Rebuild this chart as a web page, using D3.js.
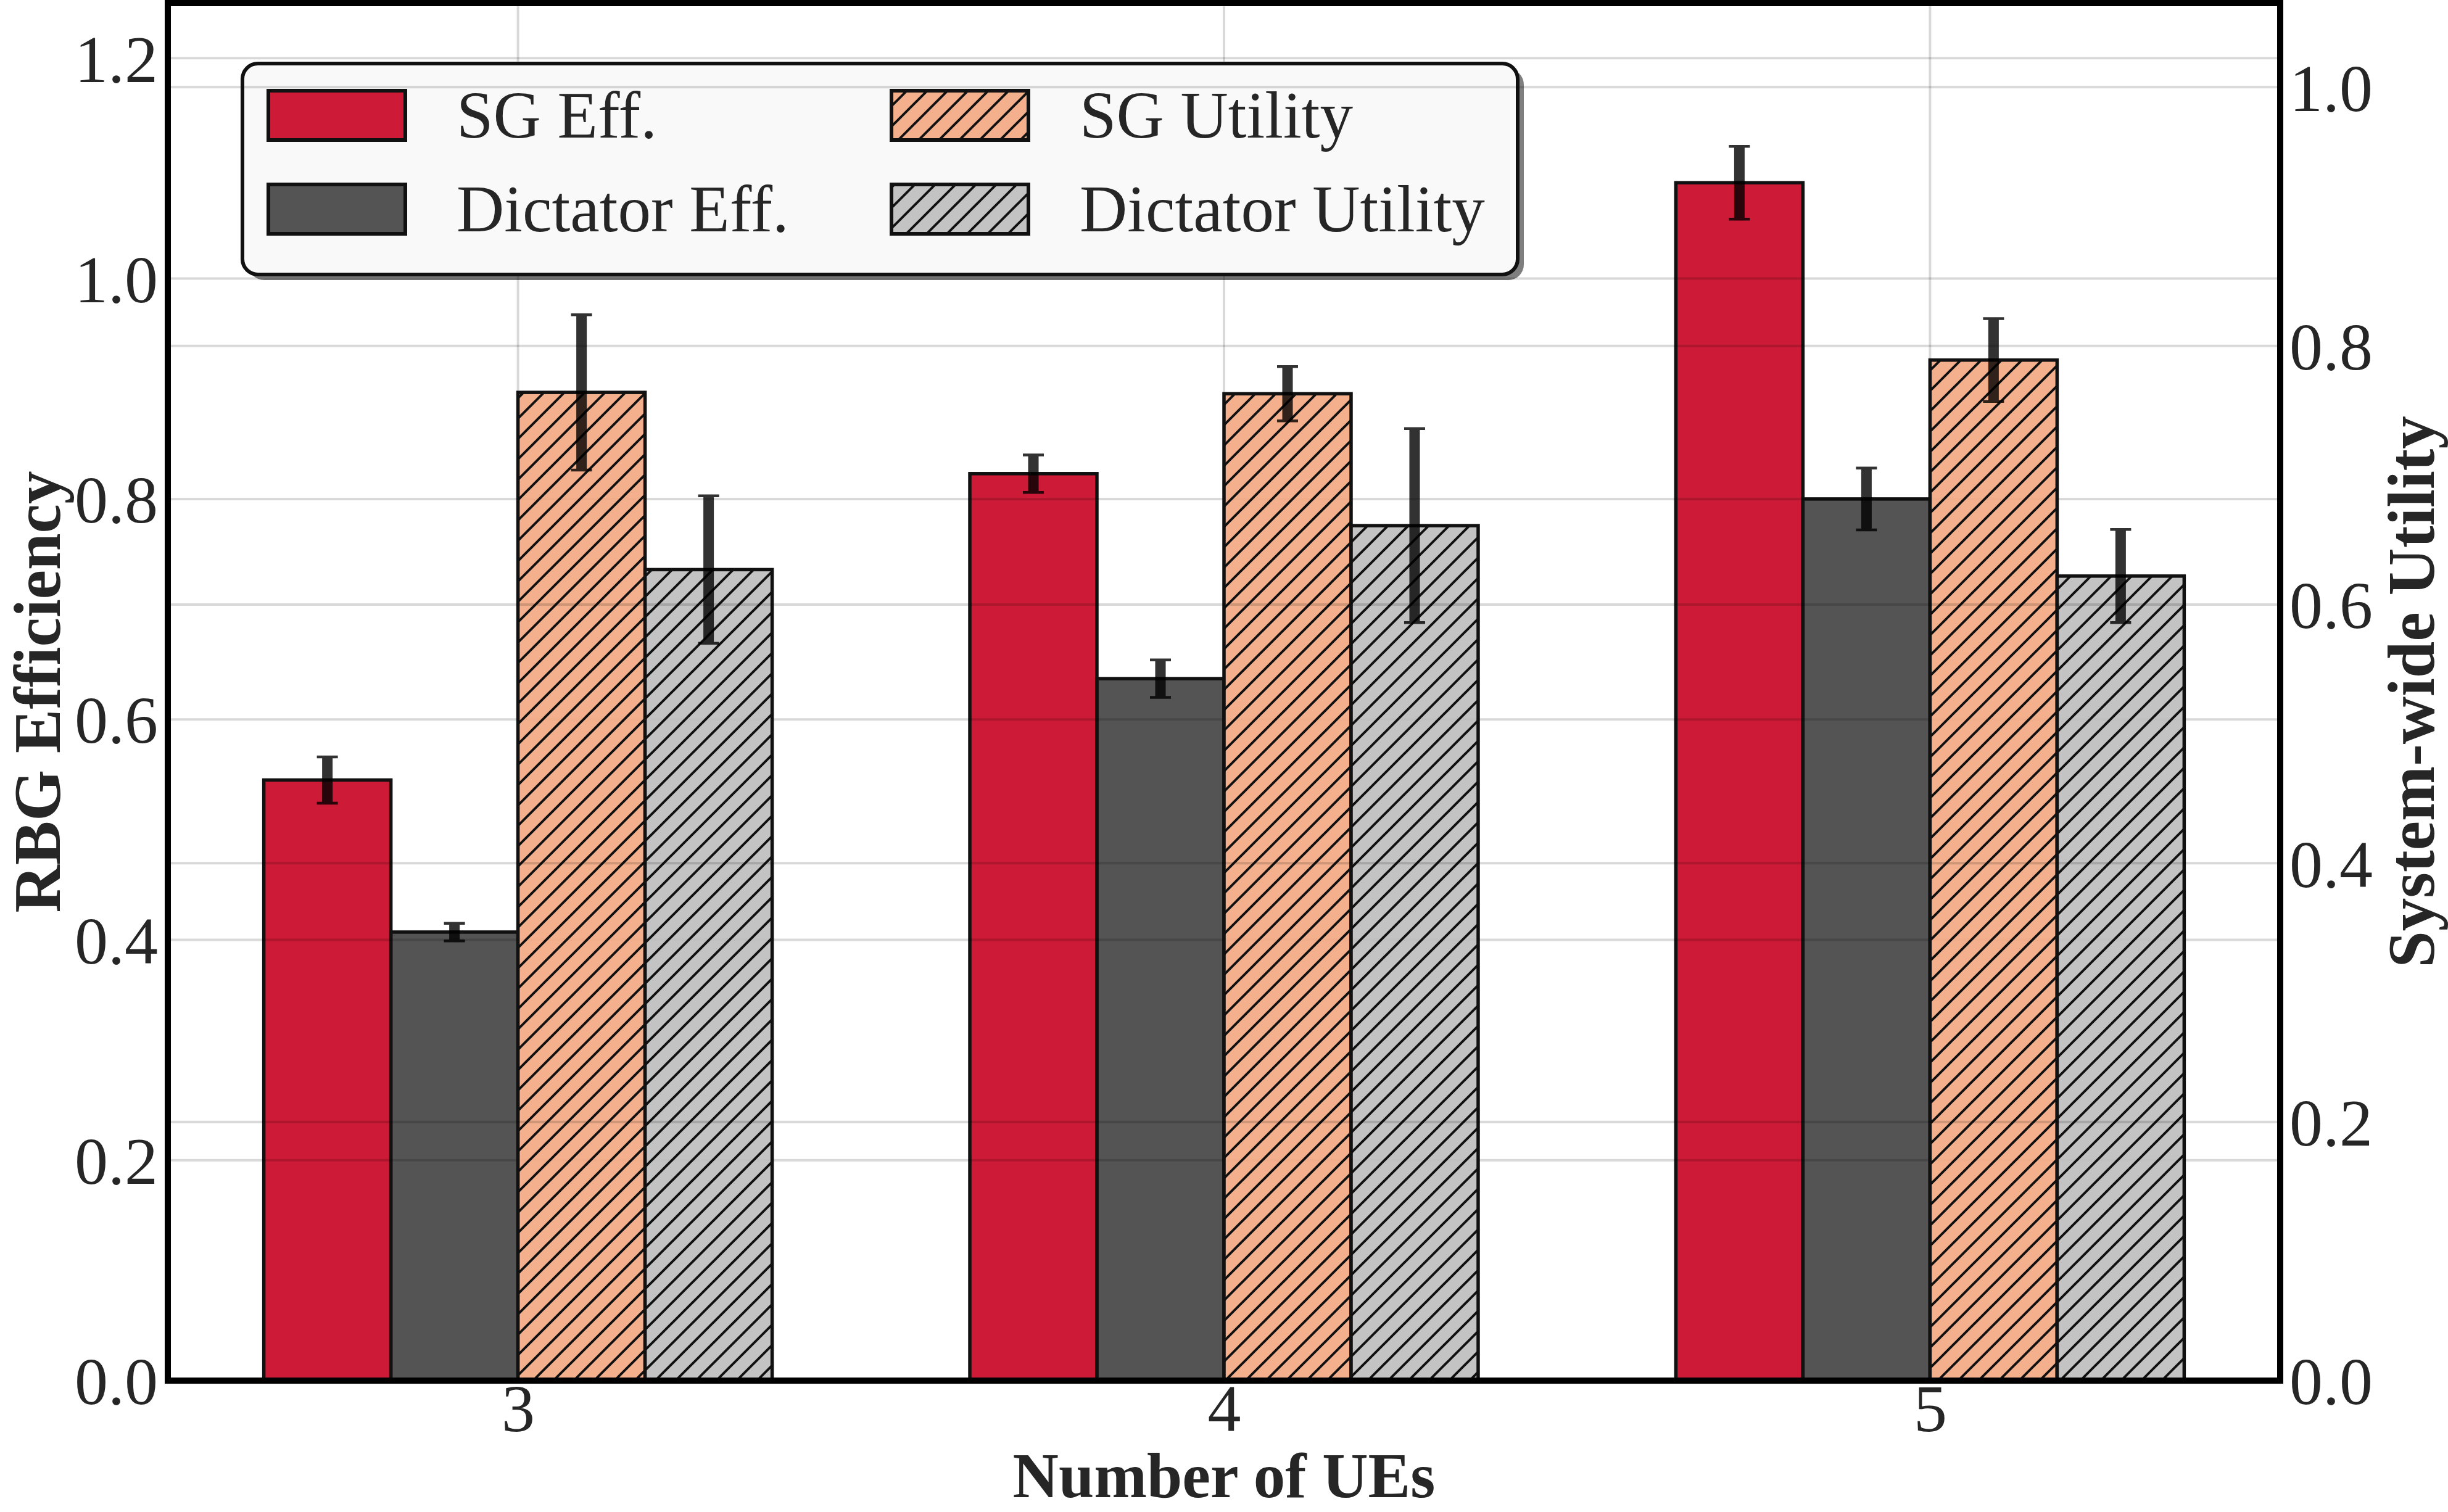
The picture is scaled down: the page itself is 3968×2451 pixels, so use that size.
<!DOCTYPE html>
<html><head><meta charset="utf-8">
<script src="https://cdn.jsdelivr.net/npm/d3@7"></script>
<style>
body{margin:0;background:#fff}
svg{display:block}
text{font-family:"Liberation Serif","Times New Roman",serif;fill:#262626}
</style>
</head><body>
<svg id="chart" width="3968" height="2451"></svg>
<script>
// ---- data ----
const categories = [3, 4, 5];
const sgEff = [0.545, 0.823, 1.087];
const sgEffErr = [0.021, 0.017, 0.033];
const dictEff = [0.407, 0.637, 0.800];
const dictEffErr = [0.008, 0.017, 0.028];
const sgUtil = [0.764, 0.763, 0.789];
const sgUtilErr = [0.060, 0.021, 0.032];
const dictUtil = [0.627, 0.661, 0.622];
const dictUtilErr = [0.057, 0.075, 0.036];
const leftTicks = [0, 0.2, 0.4, 0.6, 0.8, 1.0, 1.2];
const rightTicks = [0, 0.2, 0.4, 0.6, 0.8, 1.0];
const seriesNames = ["SG Eff.", "Dictator Eff.", "SG Utility", "Dictator Utility"];
const xLabel = "Number of UEs";
const yLeftLabel = "RBG Efficiency";
const yRightLabel = "System-wide Utility";

// ---- layout ----
const L = 272, R = 3696, T = 5, B = 2238;
const barW = 0.18;
const offsets = [-0.27, -0.09, 0.09, 0.27];
const colors = ["#c80121", "#414141", "#f3a680", "#bcbcbc"];
const FS = 108;

const svg = d3.select("#chart");
svg.append("rect").attr("width", 3968).attr("height", 2451).attr("fill", "#fff");

const x = d3.scaleLinear().domain([2.504, 5.496]).range([L, R]);
const yL = d3.scaleLinear().domain([0, 1.25]).range([B, T]);
const yR = d3.scaleLinear().domain([0, 1.065]).range([B, T]);

// hatch pattern
const defs = svg.append("defs");
const hs = 33;
defs.append("pattern").attr("id", "hatch").attr("patternUnits", "userSpaceOnUse")
  .attr("width", hs).attr("height", hs)
  .append("path")
  .attr("d", `M0,${hs} L${hs},0 M${-hs/4},${hs/4} L${hs/4},${-hs/4} M${hs*3/4},${hs*5/4} L${hs*5/4},${hs*3/4}`)
  .attr("stroke", "#111").attr("stroke-width", 4).attr("fill", "none");

function gridStyle(sel) {
  return sel.attr("stroke", "#000").attr("stroke-opacity", 0.15).attr("stroke-width", 4);
}

function drawBars(g, vals, errs, si, scale, hatched) {
  const data = categories.map((c, i) => ({c, v: vals[i], e: errs[i]}));
  const gg = g.append("g");
  const bx = d => x(d.c + offsets[si] - barW / 2);
  const bw = d => x(d.c + offsets[si] + barW / 2) - x(d.c + offsets[si] - barW / 2);
  gg.selectAll("rect.fill").data(data).join("rect")
    .attr("x", bx).attr("width", bw)
    .attr("y", d => scale(d.v)).attr("height", d => scale(0) - scale(d.v))
    .attr("fill", colors[si]).attr("fill-opacity", 0.9);
  if (hatched) {
    gg.selectAll("rect.h").data(data).join("rect")
      .attr("x", bx).attr("width", bw)
      .attr("y", d => scale(d.v)).attr("height", d => scale(0) - scale(d.v))
      .attr("fill", "url(#hatch)");
  }
  gg.selectAll("rect.edge").data(data).join("rect")
    .attr("x", bx).attr("width", bw)
    .attr("y", d => scale(d.v)).attr("height", d => scale(0) - scale(d.v))
    .attr("fill", "none").attr("stroke", "#111").attr("stroke-width", 5.5);
  // error bars
  const eg = g.append("g").attr("opacity", 0.8);
  data.forEach(d => {
    const cx = x(d.c + offsets[si]);
    eg.append("line").attr("x1", cx).attr("x2", cx)
      .attr("y1", scale(d.v - d.e)).attr("y2", scale(d.v + d.e))
      .attr("stroke", "#000").attr("stroke-width", 17);
    [d.v - d.e, d.v + d.e].forEach(yy => {
      eg.append("line").attr("x1", cx - 17).attr("x2", cx + 17)
        .attr("y1", scale(yy)).attr("y2", scale(yy))
        .attr("stroke", "#000").attr("stroke-width", 4.5);
    });
  });
}

// ---- ax1 bars ----
drawBars(svg, sgEff, sgEffErr, 0, yL, false);
drawBars(svg, dictEff, dictEffErr, 1, yL, false);

// ---- ax1 gridlines ----
const g1 = svg.append("g");
g1.selectAll("line.hl").data(leftTicks).join("line")
  .attr("x1", L).attr("x2", R).attr("y1", d => yL(d)).attr("y2", d => yL(d)).call(gridStyle);
g1.selectAll("line.vl").data(categories).join("line")
  .attr("x1", d => x(d)).attr("x2", d => x(d)).attr("y1", T).attr("y2", B).call(gridStyle);

// ---- legend (ax1) ----
const lg = svg.append("g");
const lx = 393, ly = 103, lw = 2067, lh = 342;
lg.append("rect").attr("x", lx + 10).attr("y", ly + 9).attr("width", lw).attr("height", lh)
  .attr("rx", 25).attr("fill", "#000").attr("fill-opacity", 0.5);
lg.append("rect").attr("x", lx).attr("y", ly).attr("width", lw).attr("height", lh)
  .attr("rx", 25).attr("fill", "#f9f9f9").attr("stroke", "#111").attr("stroke-width", 6);
const legPos = [[435, 147], [435, 299], [1445, 147], [1445, 299]];
seriesNames.forEach((name, i) => {
  const [px, py] = legPos[i];
  lg.append("rect").attr("x", px).attr("y", py).attr("width", 222).attr("height", 80)
    .attr("fill", colors[i]).attr("fill-opacity", 0.9);
  if (i >= 2) lg.append("rect").attr("x", px).attr("y", py).attr("width", 222).attr("height", 80)
    .attr("fill", "url(#hatch)");
  lg.append("rect").attr("x", px).attr("y", py).attr("width", 222).attr("height", 80)
    .attr("fill", "none").attr("stroke", "#111").attr("stroke-width", 6);
  lg.append("text").attr("x", px + 305).attr("y", py + 76).attr("font-size", 107).text(name);
});

// ---- ax2 bars ----
drawBars(svg, sgUtil, sgUtilErr, 2, yR, true);
drawBars(svg, dictUtil, dictUtilErr, 3, yR, true);

// ---- ax2 gridlines ----
svg.append("g").selectAll("line").data(rightTicks).join("line")
  .attr("x1", L).attr("x2", R).attr("y1", d => yR(d)).attr("y2", d => yR(d)).call(gridStyle);

// ---- spines ----
svg.append("rect").attr("x", L).attr("y", T).attr("width", R - L).attr("height", B - T)
  .attr("fill", "none").attr("stroke", "#000").attr("stroke-width", 10);

// ---- axes ----
function styleAxis(g) {
  g.select(".domain").remove();
  g.attr("font-size", FS).attr("font-family", '"Liberation Serif","Times New Roman",serif');
  g.selectAll("text").attr("fill", "#262626");
}
svg.append("g").attr("transform", `translate(256,0)`)
  .call(d3.axisLeft(yL).tickValues(leftTicks).tickSize(0).tickPadding(0).tickFormat(d3.format(".1f")))
  .call(styleAxis).call(g => g.selectAll("text").attr("dy", "0.35em"));
svg.append("g").attr("transform", `translate(3711,0)`)
  .call(d3.axisRight(yR).tickValues(rightTicks).tickSize(0).tickPadding(0).tickFormat(d3.format(".1f")))
  .call(styleAxis).call(g => g.selectAll("text").attr("dy", "0.35em"));
svg.append("g").attr("transform", `translate(0,2320)`)
  .call(d3.axisBottom(x).tickValues(categories).tickSize(0).tickPadding(0).tickFormat(d3.format("d")))
  .call(styleAxis).call(g => g.selectAll("text").attr("dy", "0").attr("y", 0));

// ---- axis labels ----
svg.append("text").attr("x", (L + R) / 2).attr("y", 2427).attr("text-anchor", "middle")
  .attr("font-size", 103).attr("font-weight", "bold").text(xLabel);
svg.append("text").attr("transform", `translate(97,${(T + B) / 2}) rotate(-90)`)
  .attr("text-anchor", "middle").attr("font-size", 107).attr("font-weight", "bold").text(yLeftLabel);
svg.append("text").attr("transform", `translate(3945,${(T + B) / 2}) rotate(-90)`)
  .attr("text-anchor", "middle").attr("font-size", 107).attr("font-weight", "bold").text(yRightLabel);
</script>
</body></html>
